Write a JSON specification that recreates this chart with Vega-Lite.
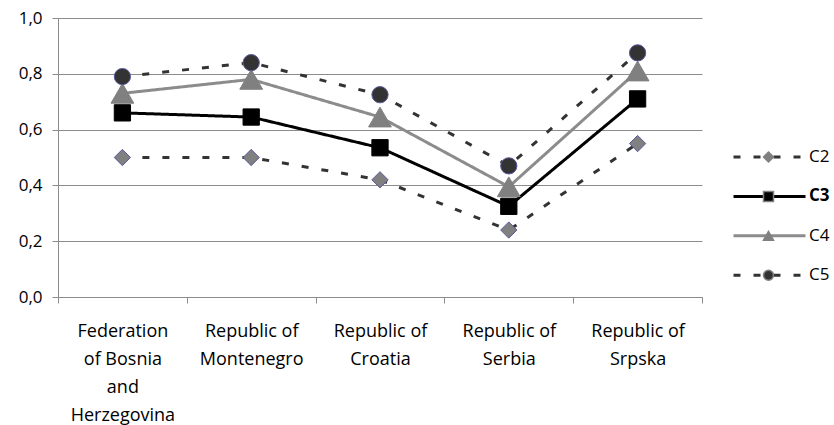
{
  "$schema": "https://vega.github.io/schema/vega-lite/v6.json",
  "width": 644,
  "height": 279,
  "autosize": "none",
  "padding": {"left": 58, "top": 18, "right": 132, "bottom": 128},
  "background": "white",
  "config": {"font": "Open Sans", "view": {"stroke": null}},
  "data": {
    "values": [
      {"series": "C2", "region": "Federation of Bosnia and Herzegovina", "value": 0.50},
      {"series": "C2", "region": "Republic of Montenegro", "value": 0.50},
      {"series": "C2", "region": "Republic of Croatia", "value": 0.42},
      {"series": "C2", "region": "Republic of Serbia", "value": 0.24},
      {"series": "C2", "region": "Republic of Srpska", "value": 0.55},
      {"series": "C3", "region": "Federation of Bosnia and Herzegovina", "value": 0.66},
      {"series": "C3", "region": "Republic of Montenegro", "value": 0.645},
      {"series": "C3", "region": "Republic of Croatia", "value": 0.535},
      {"series": "C3", "region": "Republic of Serbia", "value": 0.325},
      {"series": "C3", "region": "Republic of Srpska", "value": 0.71},
      {"series": "C4", "region": "Federation of Bosnia and Herzegovina", "value": 0.73},
      {"series": "C4", "region": "Republic of Montenegro", "value": 0.78},
      {"series": "C4", "region": "Republic of Croatia", "value": 0.645},
      {"series": "C4", "region": "Republic of Serbia", "value": 0.395},
      {"series": "C4", "region": "Republic of Srpska", "value": 0.81},
      {"series": "C5", "region": "Federation of Bosnia and Herzegovina", "value": 0.79},
      {"series": "C5", "region": "Republic of Montenegro", "value": 0.84},
      {"series": "C5", "region": "Republic of Croatia", "value": 0.725},
      {"series": "C5", "region": "Republic of Serbia", "value": 0.47},
      {"series": "C5", "region": "Republic of Srpska", "value": 0.875}
    ]
  },
  "encoding": {
    "x": {
      "field": "region",
      "type": "nominal",
      "sort": null,
      "bandPosition": 0.5,
      "scale": {"type": "band", "paddingInner": 0, "paddingOuter": 0},
      "axis": {
        "title": null,
        "grid": false,
        "tickBand": "extent",
        "domainColor": "#8c8c8c",
        "tickColor": "#8c8c8c",
        "tickSize": 6,
        "labelAngle": 0,
        "labelFontSize": 18,
        "labelColor": "#000000",
        "labelPadding": 19,
        "labelLineHeight": 28,
        "labelLimit": 0,
        "labelExpr": "!isValid(datum.value) ? '' : datum.value === 'Federation of Bosnia and Herzegovina' ? ['Federation', 'of Bosnia', 'and', 'Herzegovina'] : ['Republic of', replace(datum.value, 'Republic of ', '')]"
      }
    },
    "y": {
      "field": "value",
      "type": "quantitative",
      "scale": {"domain": [0, 1], "nice": false, "zero": true},
      "axis": {
        "title": null,
        "values": [0, 0.2, 0.4, 0.6, 0.8, 1],
        "grid": true,
        "gridColor": "#8c8c8c",
        "domainColor": "#8c8c8c",
        "tickColor": "#8c8c8c",
        "tickSize": 6,
        "labelFontSize": 17,
        "labelColor": "#000000",
        "labelPadding": 10,
        "labelExpr": "replace(format(datum.value, '.1f'), '.', ',')"
      }
    }
  },
  "layer": [
    {
      "mark": {"type": "line", "strokeWidth": 3},
      "encoding": {
        "stroke": {
          "field": "series",
          "type": "nominal",
          "scale": {"range": ["#333333", "#000000", "#8c8c8c", "#333333"]},
          "legend": {
            "orient": "none",
            "legendX": 674,
            "legendY": 129,
            "title": null,
            "padding": 0,
            "symbolType": "stroke",
            "symbolSize": 5184,
            "symbolStrokeWidth": 3,
            "clipHeight": 20,
            "rowPadding": 19.4,
            "labelFontSize": 17,
            "labelColor": "#000000",
            "labelOffset": 2,
            "encode": {
              "labels": {"update": {"fontWeight": {"signal": "datum.value === 'C3' ? 'bold' : 'normal'"}}}
            }
          }
        },
        "strokeDash": {
          "field": "series",
          "type": "nominal",
          "scale": {"range": [[7, 13], [1, 0], [1, 0], [7, 13]]}
        }
      }
    },
    {
      "mark": {"type": "point", "filled": true, "opacity": 1, "strokeWidth": 1},
      "encoding": {
        "shape": {
          "field": "series",
          "type": "nominal",
          "scale": {"domain": ["C2", "C3", "C4", "C5"], "range": ["diamond", "square", "triangle-up", "circle"]},
          "legend": {
            "orient": "none",
            "legendX": 674,
            "legendY": 129,
            "title": null,
            "padding": 0,
            "clipHeight": 20,
            "rowPadding": 19.4,
            "labelFontSize": 17,
            "labelOpacity": 0,
            "symbolOffset": 28,
            "encode": {
              "symbols": {
                "update": {
                  "stroke": {"signal": "datum.value === 'C2' || datum.value === 'C5' ? '#5a5aa0' : datum.value === 'C3' ? '#000000' : '#808080'"},
                  "strokeWidth": {"value": 1},
                  "size": {"signal": "datum.value === 'C4' ? 250 : datum.value === 'C5' ? 150 : 185"}
                }
              }
            }
          }
        },
        "fill": {
          "field": "series",
          "type": "nominal",
          "scale": {"domain": ["C2", "C3", "C4", "C5"], "range": ["#808080", "#000000", "#808080", "#333333"]}
        },
        "stroke": {
          "condition": [
            {"test": "datum.series === 'C2' || datum.series === 'C5'", "value": "#5a5aa0"},
            {"test": "datum.series === 'C3'", "value": "#000000"}
          ],
          "value": "#808080"
        },
        "size": {
          "condition": {"test": "datum.series === 'C4'", "value": 520},
          "value": 265
        }
      }
    }
  ]
}
